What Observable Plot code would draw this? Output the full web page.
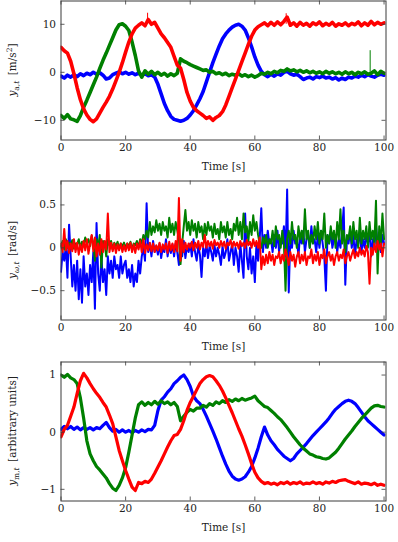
<!DOCTYPE html>
<html><head><meta charset="utf-8">
<script src="https://cdn.jsdelivr.net/npm/d3@7"></script>
<script src="https://cdn.jsdelivr.net/npm/@observablehq/plot@0.6"></script>
<style>
body{margin:0;background:#fff;}
#wrap{position:relative;width:398px;height:542px;overflow:hidden;}
#wrap svg{position:absolute;left:0;top:0;}
</style></head><body><div id="wrap"></div>
<script>
// ---------- time grids ----------
const timeSlow = d3.range(0, 101, 1);      // accelerometer & magnetometer samples (s)
const timeGyro = d3.range(0, 100.5, 0.5);  // gyroscope samples (s)
const xTicks = [0, 20, 40, 60, 80, 100];

// ---------- accelerometer y_a,t [m/s^2] ----------
const accBlue = [
 -0.8,-1.2,-0.6,-1.0,-0.5,-0.9,-0.3,-0.7,-0.2,-0.5,
 0.0,-0.4,-0.1,-0.6,-1.4,-1.2,-0.5,-0.2,0.1,-0.3,
 0.0,-0.4,-0.1,-0.5,-0.2,-0.6,-0.3,-0.7,-0.5,-1.0,
 -2.5,-4.5,-6.5,-8.0,-9.2,-9.8,-10.0,-10.2,-10.0,-9.6,
 -8.9,-8.0,-6.8,-5.5,-4.0,-2.0,0.0,2.0,3.8,5.5,
 7.0,8.0,8.8,9.4,9.8,10.0,9.6,8.8,7.2,5.3,
 3.2,1.5,0.2,-0.5,-0.9,-0.4,-0.8,-0.3,-0.6,0.0,
 0.2,-0.3,-0.6,-0.4,-0.9,-1.5,-1.2,-1.0,-1.4,-0.9,
 -1.1,-0.8,-1.2,-1.0,-1.4,-1.1,-1.6,-1.2,-1.5,-1.0,
 -1.2,-0.8,-1.0,-0.6,-0.9,-0.5,-0.8,-1.0,-0.6,-0.4,
 -0.6];
const accGreen = [
 -9.0,-9.6,-8.8,-9.7,-9.9,-10.2,-9.0,-7.3,-5.8,-4.2,
 -2.6,-1.0,0.8,2.5,4.0,5.6,7.2,8.8,9.9,10.1,
 9.6,8.7,6.3,3.5,0.3,-1.0,0.3,-0.4,0.2,-0.5,
 0.0,-0.6,-0.2,-0.8,-0.3,-0.7,-0.2,2.8,2.3,2.0,
 1.6,1.3,1.0,0.7,0.4,0.5,0.0,0.2,-0.3,-0.1,
 -0.5,-0.2,-0.7,-0.4,-0.6,-0.3,-0.8,-0.5,-0.9,-0.6,
 -1.0,-0.7,-0.2,-0.4,0.0,-0.3,0.2,-0.1,0.4,0.2,
 0.7,0.3,0.5,0.1,0.4,0.0,0.3,-0.1,0.2,-0.2,
 0.1,-0.3,0.2,-0.2,0.1,-0.3,0.0,-0.4,0.1,-0.3,
 0.0,-0.5,0.0,-0.3,0.1,-0.4,-0.2,0.3,-0.5,0.2,
 -0.2];
const accRed = [
 5.2,4.5,4.0,2.3,-0.3,-3.2,-5.7,-7.6,-8.9,-9.8,
 -10.3,-9.7,-8.5,-7.3,-6.2,-5.0,-3.5,-1.8,0.0,2.0,
 4.2,6.3,8.0,9.2,9.8,10.3,9.7,11.0,10.0,10.4,
 9.2,8.0,7.2,6.2,5.2,3.3,1.5,0.9,-1.5,-4.2,
 -6.0,-7.3,-8.0,-8.5,-9.0,-9.6,-9.3,-10.0,-9.4,-9.0,
 -8.2,-6.8,-5.0,-3.2,-1.4,0.4,2.2,4.0,5.8,7.5,
 8.8,9.5,9.9,10.3,9.7,10.4,9.8,10.5,9.9,10.6,
 11.5,9.8,10.3,9.6,10.4,9.8,10.2,9.6,10.3,9.9,
 10.5,9.7,10.2,9.8,10.4,9.6,10.1,9.8,10.3,9.7,
 10.2,9.9,10.5,9.7,10.3,9.8,10.6,9.9,10.4,10.0,
 10.3];
// isolated single-sample spikes in the accelerometer record
const accSpikeTime  = [26.8, 69.7, 95.7];
const accSpikeFrom  = [10.0, 10.0, 0.0];
const accSpikeTo    = [12.3, 12.2, 4.5];
const accSpikeColor = ["red", "red", "green"];
const accTicks = [-10, 0, 10];

// ---------- gyroscope y_ω,t [rad/s] ----------
const gyroBlue = [
 -0.28,-0.05,-0.15,0.02,-0.35,0.27,-0.1,-0.45,-0.2,-0.5,
 -0.15,-0.6,-0.25,-0.64,-0.1,-0.45,-0.3,-0.55,-0.2,-0.4,
 -0.05,-0.71,0.29,-0.3,-0.5,-0.1,-0.4,-0.25,-0.55,-0.1,
 -0.3,-0.15,-0.35,-0.1,-0.25,-0.2,-0.35,-0.1,-0.3,-0.2,
 -0.15,-0.35,-0.25,-0.4,-0.2,-0.45,-0.3,-0.4,-0.15,-0.3,
 -0.1,0.0,-0.15,0.52,-0.05,0.05,-0.1,0.08,-0.05,0.02,
 -0.08,0.05,-0.12,0.0,-0.05,0.1,-0.1,0.03,-0.06,0.04,
 -0.1,0.05,-0.05,-0.2,0.05,-0.1,0.08,-0.12,0.02,-0.05,
 0.05,-0.1,0.1,-0.05,-0.15,0.02,-0.08,-0.34,0.0,-0.1,
 0.05,-0.12,0.02,-0.05,-0.15,0.03,-0.1,0.0,-0.08,-0.2,
 0.02,-0.12,-0.05,0.1,-0.15,-0.05,0.05,-0.2,0.0,-0.1,
 -0.28,0.05,-0.15,-0.35,0.4,-0.1,-0.25,0.0,-0.3,-0.1,
 -0.4,0.05,-0.15,0.1,0.46,-0.05,0.15,0.0,0.2,0.05,
 0.1,-0.05,0.15,0.0,0.2,-0.05,0.1,0.05,0.25,-0.1,
 0.68,-0.52,0.15,0.0,0.2,0.05,0.1,-0.1,0.15,0.05,
 0.2,-0.05,0.1,0.15,0.0,0.25,0.05,0.1,-0.05,0.15,
 0.0,0.2,0.05,-0.1,-0.5,0.15,0.05,0.2,0.0,0.1,
 0.15,-0.05,0.1,0.0,0.2,0.47,-0.43,0.1,0.05,0.2,
 0.0,0.15,-0.1,0.1,0.05,0.2,-0.05,0.1,0.0,0.15,
 0.05,0.2,-0.1,0.1,0.0,0.25,0.05,0.1,-0.05,0.15,
 0.05];
const gyroGreen = [
 0.02,0.08,-0.02,0.1,0.0,0.06,0.03,0.09,-0.01,0.05,
 0.04,0.1,0.0,0.07,0.03,0.12,0.05,0.1,0.02,0.14,
 0.05,-0.15,0.1,0.0,0.15,-0.23,0.08,0.05,-0.1,0.1,
 0.03,0.08,-0.02,0.06,0.02,0.07,-0.01,0.05,0.02,0.06,
 0.0,0.05,0.02,0.07,-0.02,0.05,0.03,0.08,0.0,0.1,
 0.05,0.15,0.1,0.2,0.12,0.3,0.15,0.25,0.18,0.32,
 0.2,0.28,0.15,0.3,0.2,0.25,0.12,0.35,0.18,0.28,
 0.15,0.3,0.2,0.1,-0.19,0.05,0.25,0.44,0.2,0.3,
 0.15,0.32,0.2,0.28,0.12,0.3,0.18,0.25,0.1,0.28,
 0.15,0.3,0.2,0.25,0.12,0.28,0.16,0.22,0.1,0.3,
 0.18,0.25,0.12,0.3,0.15,0.22,0.1,0.28,0.2,0.35,
 0.15,0.3,0.1,0.4,0.18,0.25,0.08,0.3,0.15,0.38,
 0.2,0.3,0.15,0.05,0.0,0.12,0.05,0.15,0.0,0.1,
 0.05,0.2,0.02,0.25,0.1,0.15,0.0,0.2,0.05,-0.5,
 0.1,0.2,0.05,0.3,0.1,0.15,0.0,0.25,0.1,0.2,
 0.05,0.45,0.1,0.2,0.0,0.15,0.05,0.25,0.1,0.3,
 0.05,0.2,0.1,0.4,0.0,0.15,0.05,0.25,0.1,0.2,
 0.0,0.3,0.1,0.45,0.05,0.2,-0.05,0.15,0.1,0.25,
 0.05,0.3,0.1,0.2,0.0,0.35,0.05,0.2,0.1,0.25,
 0.0,0.3,0.1,0.2,0.05,0.55,-0.3,0.25,0.05,0.4,
 0.1];
const gyroRed = [
 0.05,-0.05,0.22,-0.03,0.08,-0.06,0.05,-0.04,0.1,-0.05,
 0.06,-0.08,0.04,-0.05,0.08,-0.03,0.1,-0.07,0.05,0.15,
 -0.04,0.12,-0.1,0.05,-0.08,0.1,-0.05,0.08,-0.02,0.4,
 -0.05,0.06,-0.04,0.05,-0.06,0.04,-0.03,0.05,-0.05,0.03,
 -0.04,0.05,-0.03,0.06,-0.05,0.04,-0.06,0.05,-0.02,0.08,
 -0.05,0.1,-0.06,0.04,-0.03,0.06,-0.04,0.05,-0.05,0.03,
 -0.03,0.06,-0.05,0.04,-0.02,0.05,-0.06,0.07,-0.03,0.05,
 -0.05,0.08,-0.04,0.58,-0.15,0.1,-0.05,0.06,-0.02,0.05,
 0.0,0.07,-0.03,0.06,0.0,0.08,-0.02,0.06,0.01,0.15,
 0.0,0.08,0.02,0.07,-0.01,0.09,0.03,0.06,0.0,0.08,
 0.02,0.07,-0.01,0.06,0.03,0.09,0.0,0.07,0.02,0.06,
 -0.01,0.08,0.02,0.06,0.0,0.09,0.03,0.07,0.0,0.1,
 0.02,0.08,0.0,0.12,-0.25,-0.1,-0.2,-0.08,-0.18,-0.05,
 -0.15,-0.08,-0.2,-0.1,-0.12,-0.05,-0.18,-0.08,-0.15,-0.02,
 -0.1,-0.2,-0.05,-0.15,-0.08,-0.22,-0.1,-0.05,-0.18,-0.08,
 -0.15,-0.05,-0.2,-0.1,-0.12,-0.02,-0.18,-0.08,-0.15,-0.05,
 -0.2,-0.08,-0.12,-0.02,-0.18,-0.1,-0.05,-0.15,-0.08,-0.2,
 -0.1,-0.05,-0.15,-0.08,-0.12,-0.02,-0.18,-0.1,-0.05,-0.15,
 -0.08,-0.02,-0.12,-0.05,-0.1,0.0,-0.08,-0.03,-0.1,0.02,
 -0.05,-0.42,0.0,-0.08,0.05,-0.05,0.08,-0.02,0.05,-0.1,
 0.05];
const gyroTicks = [-0.5, 0, 0.5];

// ---------- magnetometer y_m,t [arbitrary units] ----------
const magBlue = [
 0.05,0.1,0.06,0.1,0.05,0.09,0.04,0.08,0.05,0.08,
 0.04,0.08,0.06,0.12,0.17,0.08,0.02,0.05,0.0,0.04,
 0.0,0.03,-0.01,0.03,0.0,0.04,0.01,0.05,0.04,0.12,
 0.38,0.56,0.62,0.7,0.76,0.85,0.9,0.96,1.0,0.92,
 0.8,0.63,0.55,0.5,0.4,0.28,0.15,0.02,-0.12,-0.27,
 -0.42,-0.56,-0.68,-0.77,-0.82,-0.84,-0.82,-0.78,-0.7,-0.6,
 -0.45,-0.28,-0.08,0.09,-0.05,-0.15,-0.22,-0.3,-0.36,-0.42,
 -0.46,-0.5,-0.46,-0.38,-0.32,-0.26,-0.2,-0.13,-0.06,0.0,
 0.06,0.12,0.18,0.25,0.33,0.4,0.45,0.5,0.54,0.56,
 0.54,0.5,0.43,0.35,0.27,0.2,0.15,0.1,0.05,0.0,
 -0.05];
const magGreen = [
 1.0,0.96,1.01,0.95,0.92,0.85,0.6,0.25,-0.15,-0.38,
 -0.5,-0.6,-0.66,-0.73,-0.8,-0.9,-0.98,-1.02,-0.93,-0.8,
 -0.62,-0.35,-0.05,0.25,0.48,0.53,0.47,0.52,0.48,0.54,
 0.49,0.55,0.5,0.53,0.48,0.52,0.45,0.2,0.28,0.35,
 0.4,0.37,0.42,0.42,0.47,0.44,0.5,0.47,0.53,0.5,
 0.55,0.52,0.57,0.54,0.58,0.55,0.59,0.56,0.58,0.6,
 0.63,0.55,0.5,0.45,0.43,0.38,0.33,0.27,0.22,0.15,
 0.08,0.0,-0.08,-0.15,-0.22,-0.28,-0.33,-0.38,-0.4,-0.43,
 -0.44,-0.46,-0.47,-0.45,-0.4,-0.35,-0.28,-0.2,-0.12,-0.05,
 0.02,0.1,0.17,0.24,0.3,0.36,0.42,0.46,0.47,0.45,
 0.44];
const magRed = [
 -0.08,0.05,0.12,0.28,0.44,0.68,0.9,1.03,0.95,0.85,
 0.76,0.68,0.61,0.52,0.44,0.3,0.15,-0.08,-0.32,-0.5,
 -0.67,-0.82,-0.96,-1.02,-0.88,-0.9,-0.86,-0.88,-0.82,-0.72,
 -0.61,-0.5,-0.38,-0.26,-0.15,-0.06,-0.04,0.05,0.2,0.38,
 0.52,0.63,0.74,0.85,0.92,0.97,0.99,0.97,0.9,0.82,
 0.72,0.6,0.47,0.34,0.2,0.06,-0.07,-0.22,-0.38,-0.55,
 -0.7,-0.8,-0.86,-0.9,-0.88,-0.91,-0.89,-0.92,-0.88,-0.9,
 -0.87,-0.91,-0.88,-0.9,-0.87,-0.91,-0.89,-0.9,-0.87,-0.9,
 -0.88,-0.91,-0.87,-0.89,-0.86,-0.88,-0.85,-0.84,-0.83,-0.86,
 -0.88,-0.9,-0.87,-0.91,-0.89,-0.9,-0.92,-0.89,-0.93,-0.91,
 -0.93];
const magTicks = [-1, 0, 1];

// ---------- drawing ----------
const W = 398, H = 542;
const COLORS = {blue: "#0000ff", green: "#008000", red: "#ff0000"};
const AXIS = "#3a3a3a";
const FONT = "DejaVu Serif";
const FS = 10.5;
const fmt = d => (d < 0 ? "\u2212" : "") + Math.abs(d);

function panel(cfg) {
  const ml = 60.5, mr = 12.5;
  const mt = cfg.top, mb = H - cfg.bottom;
  const plotW = W - ml - mr, plotH = cfg.bottom - cfg.top;
  const lines = cfg.series.map(s =>
    Plot.lineY(s.values.map((v, i) => ({t: cfg.time[i], v})),
      {x: "t", y: "v", stroke: COLORS[s.color], strokeWidth: cfg.sw, strokeLinejoin: "round", clip: true}));
  const marks = [
    ...lines,
    ...(cfg.spikes ? [Plot.ruleX(cfg.spikes.t.map((t, i) => ({t, a: cfg.spikes.a[i], b: cfg.spikes.b[i], c: COLORS[cfg.spikes.c[i]]})),
        {x: "t", y1: "a", y2: "b", stroke: "c", strokeWidth: 1})] : []),
    Plot.tickX(xTicks, {x: d => d, insetTop: plotH - 4, stroke: AXIS, strokeOpacity: 0.8}),
    Plot.tickX(xTicks, {x: d => d, insetBottom: plotH - 4, stroke: AXIS, strokeOpacity: 0.8}),
    Plot.tickY(cfg.yTicks, {y: d => d, insetRight: plotW - 4, stroke: AXIS, strokeOpacity: 0.8}),
    Plot.tickY(cfg.yTicks, {y: d => d, insetLeft: plotW - 4, stroke: AXIS, strokeOpacity: 0.8}),
    Plot.axisX(xTicks, {tickSize: 0, tickPadding: 4, label: null, tickFormat: fmt, fill: "#222"}),
    Plot.axisY(cfg.yTicks, {tickSize: 0, tickPadding: 5, label: null, tickFormat: fmt, fill: "#222"}),
    Plot.frame({stroke: AXIS}),
    Plot.text(["Time [s]"], {text: d => d, frameAnchor: "bottom", dy: 29.5, fill: "#222"})
  ];
  const svg = Plot.plot({
    width: W, height: H,
    marginLeft: ml, marginRight: mr, marginTop: mt, marginBottom: mb,
    x: {domain: [0, 100.6]},
    y: {domain: cfg.yDomain},
    style: {fontFamily: FONT, fontSize: FS + "px", background: "transparent", color: "#222"},
    marks
  });
  // y-axis label with math subscript
  const cy = (cfg.top + cfg.bottom) / 2;
  const t = d3.select(svg).append("text")
    .attr("transform", `translate(16,${cy}) rotate(-90)`)
    .attr("text-anchor", "middle")
    .attr("font-family", FONT).attr("font-size", FS).attr("fill", "#222");
  t.append("tspan").attr("font-style", "italic").text("y");
  t.append("tspan").attr("font-size", 7.5).attr("dy", 3).attr("font-style", cfg.subItalic ? "italic" : null).text(cfg.sub);
  t.append("tspan").attr("font-size", 7.5).attr("font-style", "italic").text(",t");
  t.append("tspan").attr("dy", -3).text("\u2009 " + cfg.unit);
  if (cfg.sup) {
    t.append("tspan").attr("font-size", 7.5).attr("dy", -4.5).text(cfg.sup);
    t.append("tspan").attr("dy", 4.5).text(cfg.unitEnd);
  }
  return svg;
}

const wrap = document.getElementById("wrap");
wrap.appendChild(panel({
  top: 0.5, bottom: 139.5, yDomain: [-14.1, 14.85], yTicks: accTicks, time: timeSlow, sw: 3.6,
  series: [{values: accBlue, color: "blue"}, {values: accGreen, color: "green"}, {values: accRed, color: "red"}],
  spikes: {t: accSpikeTime, a: accSpikeFrom, b: accSpikeTo, c: accSpikeColor},
  sub: "a", unit: "[m/s", sup: "2", unitEnd: "]"
}));
wrap.appendChild(panel({
  top: 180.5, bottom: 319.5, yDomain: [-0.842, 0.779], yTicks: gyroTicks, time: timeGyro, sw: 2.0,
  series: [{values: gyroBlue, color: "blue"}, {values: gyroGreen, color: "green"}, {values: gyroRed, color: "red"}],
  sub: "\u03c9", subItalic: true, unit: "[rad/s]"
}));
wrap.appendChild(panel({
  top: 361.5, bottom: 500.5, yDomain: [-1.204, 1.228], yTicks: magTicks, time: timeSlow, sw: 3.2,
  series: [{values: magBlue, color: "blue"}, {values: magGreen, color: "green"}, {values: magRed, color: "red"}],
  sub: "m", unit: "[arbitrary units]"
}));
</script></body></html>
